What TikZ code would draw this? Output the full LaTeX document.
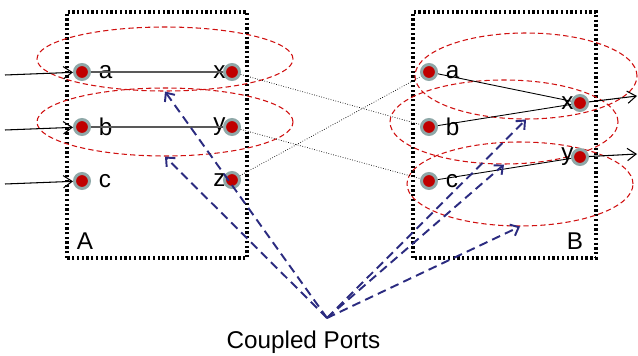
\documentclass[tikz,border=0pt]{standalone}
\usepackage{fontspec}
\setmainfont{Liberation Sans}
\usetikzlibrary{arrows.meta,shapes.geometric}

\definecolor{portred}{HTML}{C00000}
\definecolor{portring}{HTML}{8FA8A8}
\definecolor{grpred}{HTML}{D01010}
\definecolor{cplblue}{HTML}{2B2B80}

\tikzset{
  txt/.style={font=\fontsize{13.8pt}{16pt}\selectfont},
  port/.style={circle,fill=portred,draw=portring,line width=1.7pt,minimum size=.3cm,inner sep=0pt},
  pr/.style={port,label={[txt,label distance=1pt]right:#1}},
  pl/.style={port,label={[txt,label distance=-5pt]left:#1}},
  modbox/.style={line width=1.8pt,dash pattern=on 1.3pt off 1.4pt},
  grp/.style={ellipse,draw=grpred,dash pattern=on 3pt off 1.8pt,line width=.6pt,inner sep=0pt},
  cpl/.style={draw=cplblue,line width=1.1pt,dash pattern=on 5pt off 3pt,-{Straight Barb[length=4pt,width=7pt]}},
  wire/.style={line width=.6pt,-{Straight Barb[length=5pt,width=7pt]}},
  link/.style={line width=.4pt,densely dotted}
}

\begin{document}
\begin{tikzpicture}
\useasboundingbox (0, 0) rectangle (12.76, 7.1);

% models
\draw [modbox] (1.34, 1.94) rectangle (4.94, 6.86);
\draw [modbox] (8.26, 1.94) rectangle (11.92, 6.86);
\node (labA) at (1.7, 2.28) [txt] {A};
\node (labB) at (11.5, 2.28) [txt] {B};

% groups of coupled ports
\node (gA1) at (3.3, 5.92) [grp,minimum width=5.12cm,minimum height=1.28cm] {};
\node (gA2) at (3.3, 4.66) [grp,minimum width=5.12cm,minimum height=1.36cm] {};
\node (gB1) at (10.52, 5.58) [grp,minimum width=4.44cm,minimum height=1.72cm] {};
\node (gB2) at (10.08, 4.66) [grp,minimum width=4.56cm,minimum height=1.68cm] {};
\node (gB3) at (10.4, 3.42) [grp,minimum width=4.52cm,minimum height=1.68cm] {};

% ports
\node (Aa) at (1.64, 5.66) [pr=a] {};
\node (Ab) at (1.64, 4.56) [pr=b] {};
\node (Ac) at (1.64, 3.48) [pr=c] {};
\node (Ax) at (4.64, 5.66) [pl=x] {};
\node (Ay) at (4.64, 4.56) [pl=y] {};
\node (Az) at (4.64, 3.5) [pl=z] {};
\node (Ba) at (8.58, 5.66) [pr=a] {};
\node (Bb) at (8.58, 4.56) [pr=b] {};
\node (Bc) at (8.58, 3.48) [pr=c] {};
\node (Bx) at (11.6, 5.04) [pl=x] {};
\node (By) at (11.6, 3.96) [pl=y] {};

% inputs and outputs
\coordinate (inA) at (.1, 5.6);
\coordinate (inB) at (.1, 4.5);
\coordinate (inC) at (.1, 3.42);
\coordinate (outX) at (12.74, 5.18);
\coordinate (outY) at (12.74, 4.02);
\draw [wire] (inA) -- (Aa);
\draw [wire] (inB) -- (Ab);
\draw [wire] (inC) -- (Ac);
\draw [wire] (Bx) -- (outX);
\draw [wire] (By) -- (outY);

% internal connections
\draw [gray!70!black,line width=.8pt] (Aa) -- (Ax);
\draw [gray!70!black,line width=.8pt] (Ab) -- (Ay);
\draw [line width=.5pt] (Ba) -- (Bx);
\draw [line width=.5pt] (Bb) -- (Bx);
\draw [line width=.5pt] (Bc) -- (By);

% couplings
\draw [link] (Ax) -- (Bb);
\draw [link] (Ay) -- (Bc);
\draw [link] (Az) -- (Ba);

% annotation
\coordinate (src) at (6.54, .74);
\node (caption) at (6.07, .26) [txt] {Coupled Ports};
\draw [cpl] (src) -- (gA1.south);
\draw [cpl] (src) -- (gA2.south);
\draw [cpl] (src) -- (gB1.south);
\draw [cpl] (src) -- (gB2.south);
\draw [cpl] (src) -- (gB3.south);
\end{tikzpicture}
\end{document}
